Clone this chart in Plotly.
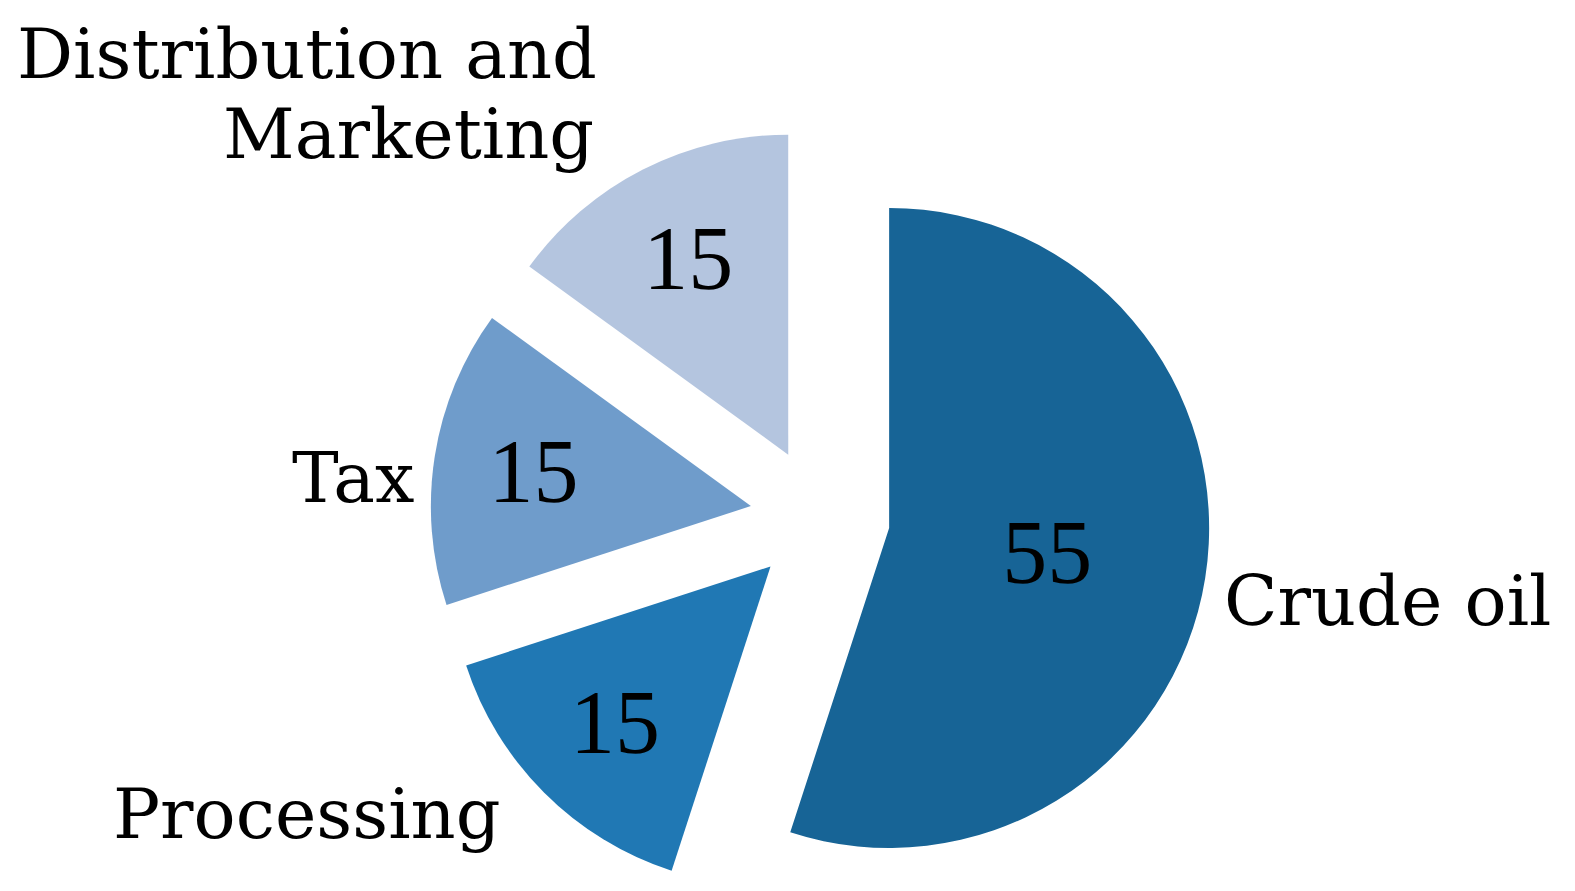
import math

import plotly.graph_objects as go

# data
categories = ["Crude oil", "Processing", "Tax", "Distribution and Marketing"]
shares = [55, 15, 15, 15]
colors = ["#176496", "#2078b4", "#6f9ccb", "#b4c5df"]

W, H = 1575, 891
cx, cy = 812, 509      # pie centre before pulling, px
r = 320                # radius, px
pull_px = 70           # how far every slice is pulled out, px

total = sum(shares)
fig = go.Figure()

start = 0.0
for i, v in enumerate(shares):
    mid = (start + v / 2) / total * 2 * math.pi   # clockwise from 12 o'clock
    start += v
    vx = cx + pull_px * math.sin(mid)
    vy = cy - pull_px * math.cos(mid)
    fig.add_trace(go.Pie(
        values=shares,
        labels=categories,
        sort=False,
        direction="clockwise",
        rotation=0,
        marker=dict(colors=[colors[j] if j == i else "rgba(0,0,0,0)" for j in range(len(shares))],
                    line=dict(width=0)),
        text=[str(shares[j]) if j == i else "" for j in range(len(shares))],
        textinfo="text",
        textposition="inside",
        insidetextorientation="horizontal",
        insidetextfont=dict(family="Liberation Serif", size=90, color="black"),
        hoverinfo="skip",
        showlegend=False,
        domain=dict(x=[(vx - r) / W, (vx + r) / W],
                    y=[1 - (vy + r) / H, 1 - (vy - r) / H]),
    ))

# category names placed beside their slices
label_font = dict(family="DejaVu Serif", size=70, color="black")
name_spots = [
    ("Distribution and", 591, 46, "right"),
    ("Marketing", 588, 126, "right"),
    ("Tax", 408, 470, "right"),
    ("Processing", 494, 806, "right"),
    ("Crude oil", 1214, 593, "left"),
]
for txt, px, py, anchor in name_spots:
    fig.add_annotation(text=txt, x=px / W, y=1 - py / H, xref="paper", yref="paper",
                       xanchor=anchor, yanchor="middle", showarrow=False,
                       font=label_font)

fig.update_layout(width=W, height=H, margin=dict(l=0, r=0, t=0, b=0),
                  paper_bgcolor="white", plot_bgcolor="white")
fig.write_html("out.html")
